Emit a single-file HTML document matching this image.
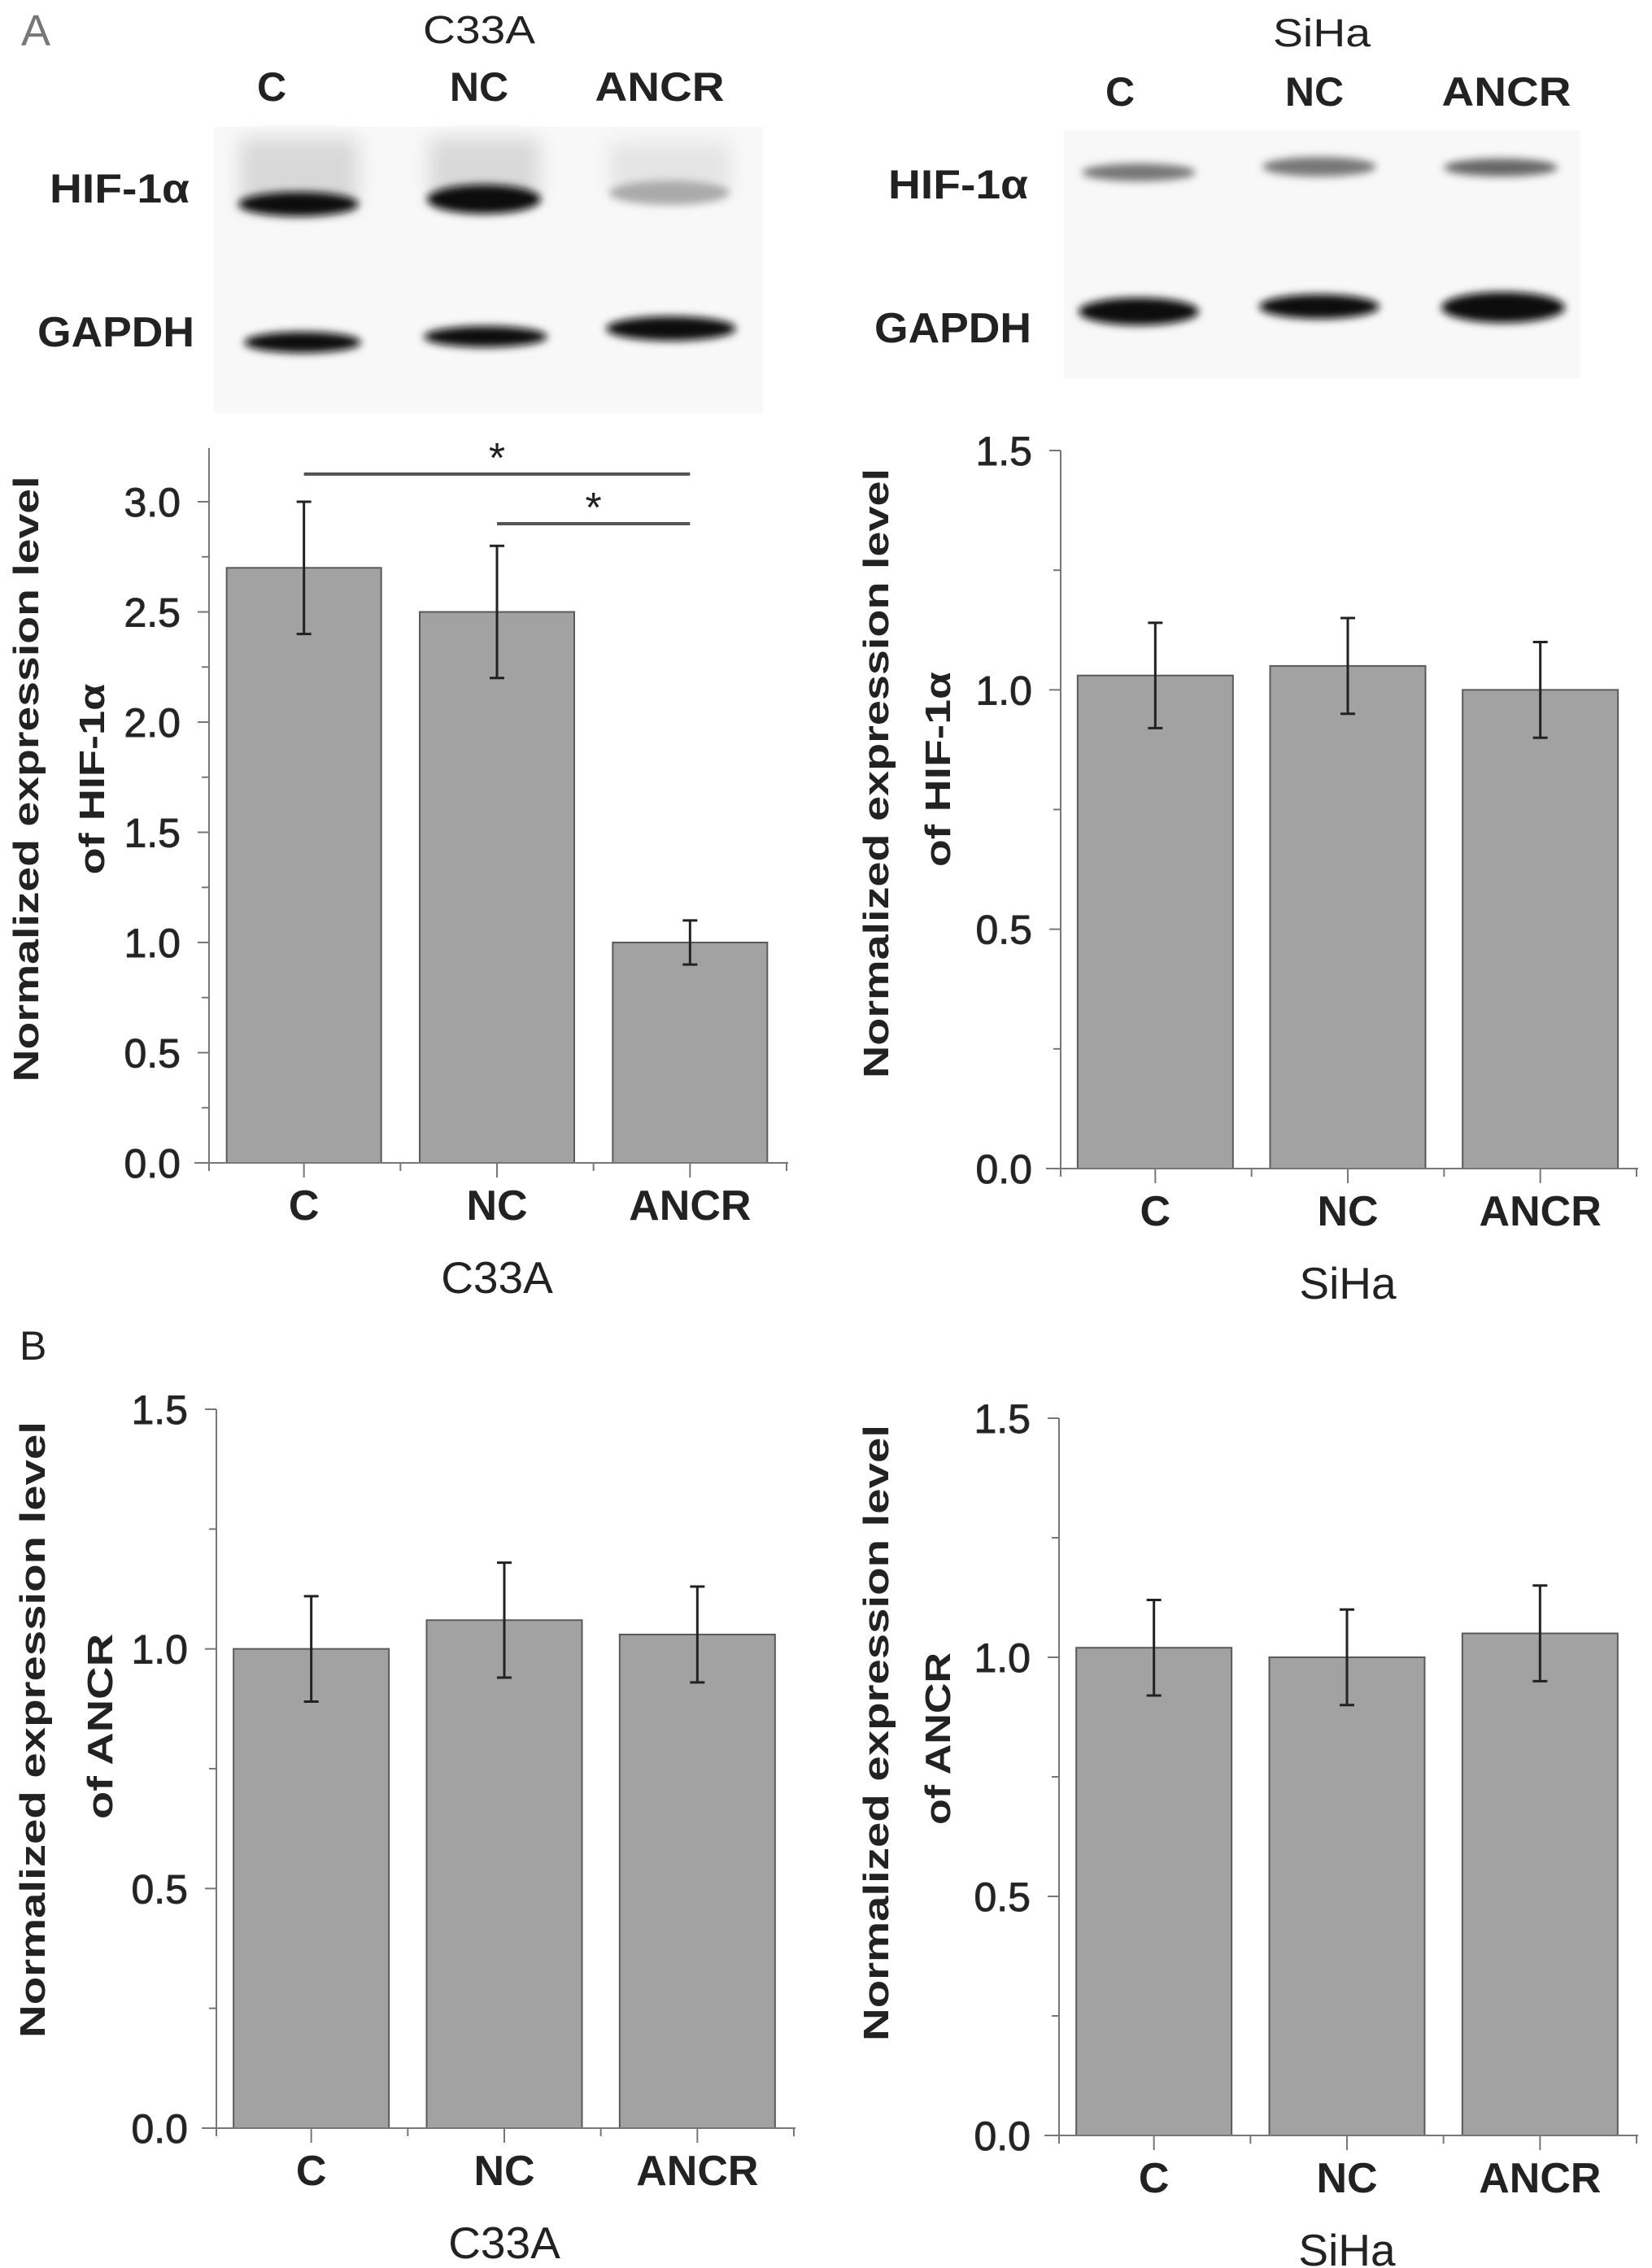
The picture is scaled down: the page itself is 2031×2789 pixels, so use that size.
<!DOCTYPE html>
<html><head><meta charset="utf-8"><style>
html,body{margin:0;padding:0;background:#fff}
svg{display:block}
text{font-family:"Liberation Sans",sans-serif;fill:#222}
</style></head><body>
<svg id="fig" width="2031" height="2789" viewBox="0 0 2031 2789" xmlns="http://www.w3.org/2000/svg">
<defs>
<filter id="blur" x="-30%" y="-100%" width="160%" height="300%"><feGaussianBlur stdDeviation="5"/></filter>
<filter id="blur2" x="-30%" y="-100%" width="160%" height="300%"><feGaussianBlur stdDeviation="12"/></filter>
</defs>
<text x="26" y="56" font-size="54" style="fill:#777">A</text>
<text x="24" y="1672" font-size="50">B</text>

<g>
<rect x="263" y="156" width="675" height="352" fill="#f8f8f8"/>
<rect x="295" y="170" width="145" height="85" fill="#d8d8d8" filter="url(#blur2)"/>
<rect x="528" y="170" width="135" height="75" fill="#d8d8d8" filter="url(#blur2)"/>
<rect x="750" y="175" width="148" height="60" fill="#e4e4e4" filter="url(#blur2)"/>
<ellipse cx="367" cy="251" rx="74" ry="15" fill="#0a0a0a" filter="url(#blur)"/>
<ellipse cx="595" cy="245" rx="70" ry="18" fill="#0a0a0a" filter="url(#blur)"/>
<ellipse cx="823" cy="237" rx="74" ry="15" fill="#aaa" filter="url(#blur)"/>
<ellipse cx="372" cy="421" rx="72" ry="13" fill="#0a0a0a" filter="url(#blur)"/>
<ellipse cx="597" cy="414" rx="76" ry="13" fill="#0a0a0a" filter="url(#blur)"/>
<ellipse cx="825" cy="404" rx="80" ry="15" fill="#0a0a0a" filter="url(#blur)"/>
</g>
<text x="589" y="53" font-size="48" text-anchor="middle" textLength="138" lengthAdjust="spacingAndGlyphs">C33A</text>
<text x="334" y="124" font-size="50" font-weight="bold" text-anchor="middle">C</text>
<text x="589" y="124" font-size="50" font-weight="bold" text-anchor="middle">NC</text>
<text x="811" y="124" font-size="50" font-weight="bold" text-anchor="middle" textLength="159" lengthAdjust="spacingAndGlyphs">ANCR</text>
<text x="61" y="249" font-size="50" font-weight="bold" textLength="172" lengthAdjust="spacingAndGlyphs">HIF-1α</text>
<text x="46" y="426" font-size="52" font-weight="bold" textLength="193" lengthAdjust="spacingAndGlyphs">GAPDH</text>

<g>
<rect x="1308" y="160" width="635" height="305" fill="#f8f8f8"/>
<ellipse cx="1400" cy="212" rx="70" ry="11" fill="#777" filter="url(#blur)"/>
<ellipse cx="1622" cy="205" rx="70" ry="12" fill="#777" filter="url(#blur)"/>
<ellipse cx="1845" cy="206" rx="70" ry="11" fill="#666" filter="url(#blur)"/>
<ellipse cx="1400" cy="383" rx="74" ry="17" fill="#0a0a0a" filter="url(#blur)"/>
<ellipse cx="1622" cy="377" rx="74" ry="15" fill="#0a0a0a" filter="url(#blur)"/>
<ellipse cx="1848" cy="378" rx="76" ry="19" fill="#0a0a0a" filter="url(#blur)"/>
</g>
<text x="1625" y="57" font-size="48" text-anchor="middle" textLength="120" lengthAdjust="spacingAndGlyphs">SiHa</text>
<text x="1377" y="130" font-size="50" font-weight="bold" text-anchor="middle">C</text>
<text x="1616" y="130" font-size="50" font-weight="bold" text-anchor="middle">NC</text>
<text x="1852" y="130" font-size="50" font-weight="bold" text-anchor="middle" textLength="159" lengthAdjust="spacingAndGlyphs">ANCR</text>
<text x="1092" y="244" font-size="50" font-weight="bold" textLength="172" lengthAdjust="spacingAndGlyphs">HIF-1α</text>
<text x="1075" y="421" font-size="52" font-weight="bold" textLength="193" lengthAdjust="spacingAndGlyphs">GAPDH</text>
<g id="charts"></g>
</svg>
<script>
const categories = ["C", "NC", "ANCR"];
const hifC33aValues = [2.7, 2.5, 1.0];
const hifC33aErrors = [0.3, 0.3, 0.1];
const hifSihaValues = [1.03, 1.05, 1.0];
const hifSihaErrors = [0.11, 0.10, 0.10];
const ancrC33aValues = [1.0, 1.06, 1.03];
const ancrC33aErrors = [0.11, 0.12, 0.10];
const ancrSihaValues = [1.02, 1.0, 1.05];
const ancrSihaErrors = [0.10, 0.10, 0.10];
const ticksC33aHif = ["0.0","0.5","1.0","1.5","2.0","2.5","3.0"];
const ticksOther = ["0.0","0.5","1.0","1.5"];

const NS = "http://www.w3.org/2000/svg";
const root = document.getElementById("charts");
function mk(tag, attrs, parent, text) {
  const e = document.createElementNS(NS, tag);
  for (const k in attrs) e.setAttribute(k, attrs[k]);
  if (text !== undefined) e.textContent = text;
  (parent || root).appendChild(e);
  return e;
}

function chart(cfg) {
  const g = mk("g", {});
  
  
  const y = v => cfg.y0 - (v / cfg.vmax) * (cfg.y0 - cfg.yTop);
  const slot = (cfg.x1 - cfg.x0) / categories.length;
  const xc = i => cfg.x0 + slot * i + slot / 2 - 2;
  cfg.values.forEach((v, i) => {
    const b = mk("rect", {x: xc(i) - cfg.bw / 2, y: y(v), width: cfg.bw, height: y(0) - y(v), fill: "#a2a2a2", stroke: "#5a5a5a", "stroke-width": 2}, g);
    
    
    const e = cfg.errors[i];
    const eb = mk("path", {d: `M${xc(i)},${y(v+e)}V${y(v-e)}M${xc(i)-9},${y(v+e)}h18M${xc(i)-9},${y(v-e)}h18`, stroke: "#222", "stroke-width": 3, fill: "none"}, g);
    
    
    const t = mk("text", {x: xc(i), y: cfg.y0 + 70, "font-size": 52, "font-weight": "bold", "text-anchor": "middle"}, g, categories[i]);
    
    
    mk("line", {x1: xc(i), x2: xc(i), y1: cfg.y0, y2: cfg.y0 + 18, stroke: "#777", "stroke-width": 2}, g);
    mk("line", {x1: xc(i) + slot / 2, x2: xc(i) + slot / 2, y1: cfg.y0, y2: cfg.y0 + 10, stroke: "#777", "stroke-width": 2}, g);
  });
  mk("line", {x1: cfg.x0, x2: cfg.x0, y1: cfg.y0, y2: cfg.y0 + 10, stroke: "#777", "stroke-width": 2}, g);
  const ax = mk("path", {d: `M${cfg.x0},${cfg.yAxisTop}V${cfg.y0}M${cfg.x0 - 18},${cfg.y0}H${cfg.x1}`, stroke: "#777", "stroke-width": 2, fill: "none"}, g);
  
  
  cfg.ticks.forEach(tl => {
    const v = parseFloat(tl);
    mk("line", {x1: cfg.x0 - 14, x2: cfg.x0, y1: y(v), y2: y(v), stroke: "#777", "stroke-width": 2}, g);
    if (y(v + 0.25) >= cfg.yAxisTop - 1) {
      mk("line", {x1: cfg.x0 - 9, x2: cfg.x0, y1: y(v + 0.25), y2: y(v + 0.25), stroke: "#777", "stroke-width": 2}, g);
    }
    const t = mk("text", {x: cfg.x0 - 35, y: y(v) + 18, "font-size": 50, "text-anchor": "end", stroke: "#333", "stroke-width": 1}, g, tl);
    
    
  });
  const t1 = mk("text", {x: 0, y: 0, "font-size": 44, "font-weight": "bold", "text-anchor": "middle", textLength: cfg.len1, lengthAdjust: "spacingAndGlyphs", transform: `translate(${cfg.tx1},${cfg.tyc1}) rotate(-90)`}, g, "Normalized expression level");
  
  
  const t2 = mk("text", {x: 0, y: 0, "font-size": 44, "font-weight": "bold", "text-anchor": "middle", textLength: cfg.len2, lengthAdjust: "spacingAndGlyphs", transform: `translate(${cfg.tx2},${cfg.tyc2}) rotate(-90)`}, g, cfg.title2);
  
  
  const xt = mk("text", {x: xc(1), y: cfg.y0 + 160, "font-size": 55, "text-anchor": "middle"}, g, cfg.xtitle);
  
  
  return {g, xc, y};
}

const a = chart({name: "chart-hif-c33a", x0: 257, x1: 969, y0: 1430, yTop: 617, vmax: 3.0, yAxisTop: 551, bw: 190, values: hifC33aValues, errors: hifC33aErrors, ticks: ticksC33aHif, tx1: 47, tyc1: 958, len1: 745, tx2: 128, tyc2: 958, len2: 235, title2: "of HIF-1α", xtitle: "C33A"});
chart({name: "chart-hif-siha", x0: 1304, x1: 2014, y0: 1437, yTop: 554, vmax: 1.5, yAxisTop: 554, bw: 191, values: hifSihaValues, errors: hifSihaErrors, ticks: ticksOther, tx1: 1092, tyc1: 951, len1: 750, tx2: 1168, tyc2: 946, len2: 240, title2: "of HIF-1α", xtitle: "SiHa"});
chart({name: "chart-ancr-c33a", x0: 266, x1: 978, y0: 2617, yTop: 1733, vmax: 1.5, yAxisTop: 1733, bw: 191, values: ancrC33aValues, errors: ancrC33aErrors, ticks: ticksOther, tx1: 55, tyc1: 2127, len1: 758, tx2: 138, tyc2: 2123, len2: 228, title2: "of ANCR", xtitle: "C33A"});
chart({name: "chart-ancr-siha", x0: 1302, x1: 2014, y0: 2626, yTop: 1744, vmax: 1.5, yAxisTop: 1744, bw: 191, values: ancrSihaValues, errors: ancrSihaErrors, ticks: ticksOther, tx1: 1092, tyc1: 2131, len1: 758, tx2: 1168, tyc2: 2138, len2: 212, title2: "of ANCR", xtitle: "SiHa"});

const s1 = mk("line", {x1: a.xc(0), x2: a.xc(2), y1: 583, y2: 583, stroke: "#555", "stroke-width": 4}, a.g);


const st1 = mk("text", {x: (a.xc(0)+a.xc(2))/2, y: 583 - 2, "font-size": 52, "text-anchor": "middle"}, a.g, "*");


const s2 = mk("line", {x1: a.xc(1), x2: a.xc(2), y1: 644, y2: 644, stroke: "#555", "stroke-width": 4}, a.g);


const st2 = mk("text", {x: (a.xc(1)+a.xc(2))/2, y: 644 - 2, "font-size": 52, "text-anchor": "middle"}, a.g, "*");


</script>
</body></html>
